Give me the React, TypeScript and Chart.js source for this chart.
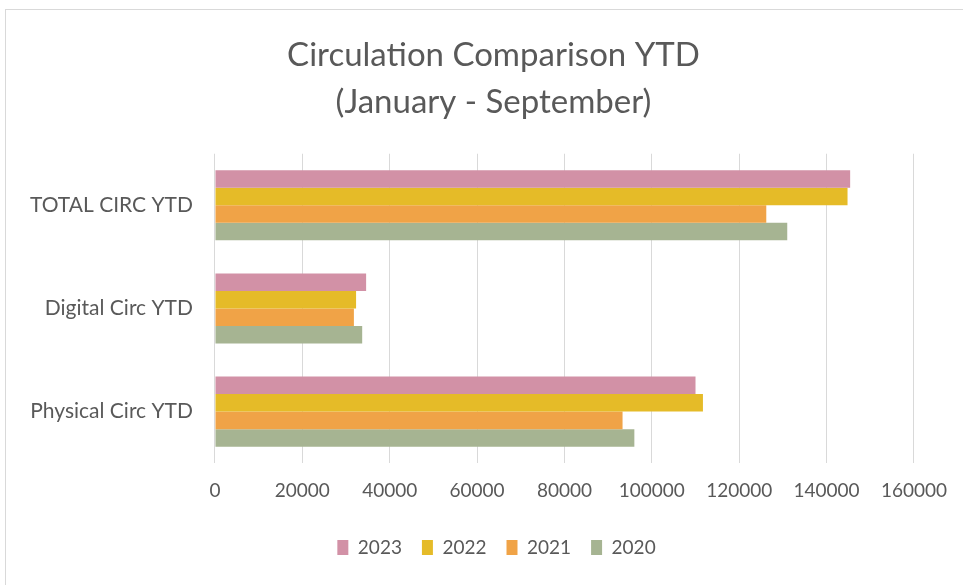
import React, { useEffect, useRef } from "react";
import { Chart, registerables } from "chart.js";

Chart.register(...registerables);

const categories = ["TOTAL CIRC YTD", "Digital Circ YTD", "Physical Circ YTD"];
const years = ["2023", "2022", "2021", "2020"];
const values2023 = [145400, 34600, 110000];
const values2022 = [144800, 32300, 111700];
const values2021 = [126200, 31800, 93300];
const values2020 = [131000, 33700, 96000];
const seriesColors = ["#D291A6", "#E5BB28", "#F0A347", "#A6B492"];
const titleLines = ["Circulation Comparison YTD", "(January - September)"];

const FONT = "Lato, 'Open Sans', sans-serif";
const TEXT = "#595959";

const centerShift = {
  id: "centerShift",
  afterLayout(chart: any) {
    const lg = chart.legend;
    if (lg) {
      lg.left += 23;
      lg.right += 23;
    }
    const tb = chart.titleBlock;
    if (tb) {
      tb.left += 20;
      tb.right += 20;
    }
  },
};

export default function App() {
  const ref = useRef<HTMLCanvasElement | null>(null);
  useEffect(() => {
    if (!ref.current) return;
    const allValues = [values2023, values2022, values2021, values2020];
    const chart = new Chart(ref.current, {
      type: "bar",
      data: {
        labels: categories,
        datasets: years.map((y, i) => ({
          label: y,
          data: allValues[i],
          backgroundColor: seriesColors[i],
          borderWidth: 0,
          categoryPercentage: 0.68,
          barPercentage: 1,
        })),
      },
      options: {
        indexAxis: "y",
        animation: false,
        responsive: false,
        maintainAspectRatio: false,
        layout: { padding: { left: 8, right: 24, top: 32, bottom: 18 } },
        plugins: {
          title: {
            display: true,
            text: titleLines,
            color: TEXT,
            font: { family: FONT, size: 33, weight: "normal", lineHeight: 1.42 },
            padding: { top: 0, bottom: 28 },
          },
          legend: {
            position: "bottom",
            labels: {
              color: TEXT,
              font: { family: FONT, size: 19 },
              boxWidth: 11,
              boxHeight: 15,
              padding: 20,
            },
          },
          tooltip: { enabled: false },
        },
        scales: {
          x: {
            min: 0,
            max: 160000,
            ticks: {
              stepSize: 20000,
              color: TEXT,
              font: { family: FONT, size: 19 },
              padding: 16,
              maxRotation: 0,
              callback: (v: any) => String(v),
            },
            grid: { color: "#D9D9D9", lineWidth: 1, drawTicks: false },
            border: { display: false },
          },
          y: {
            ticks: {
              color: TEXT,
              font: { family: FONT, size: 21 },
              padding: 22,
            },
            grid: { display: false, drawTicks: false },
            border: { display: false },
          },
        },
      },
      plugins: [centerShift],
    });
    return () => chart.destroy();
  }, []);
  return (
    <div style={{ position: "fixed", left: 0, top: 0, width: 963, height: 585, overflow: "hidden", background: "#fff" }}>
      <div style={{ position: "absolute", left: 5, top: 9, width: 1200, height: 1200, border: "1px solid #D9D9D9" }} />
      <canvas ref={ref} width={963} height={585} style={{ position: "absolute", left: 0, top: 0 }} />
    </div>
  );
}
